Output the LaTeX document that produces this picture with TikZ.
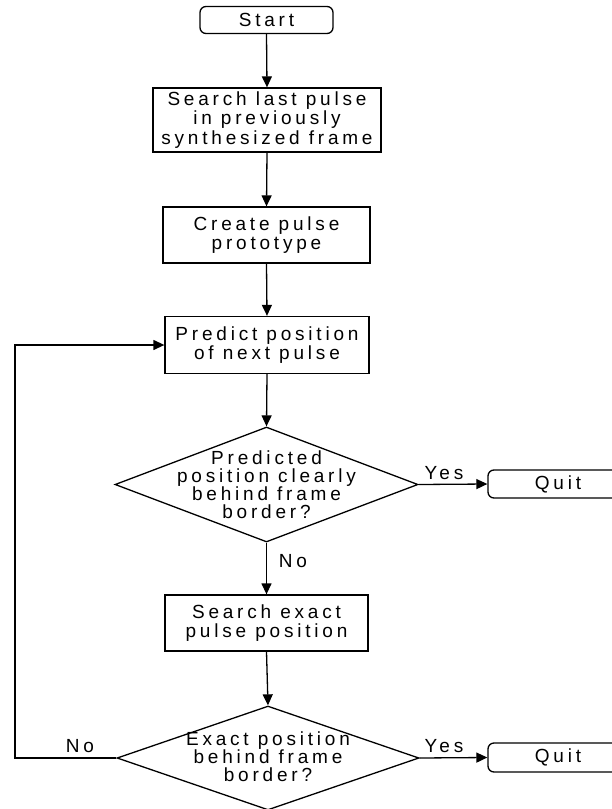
\documentclass[tikz,border=0pt]{standalone}
\usepackage{fontspec}
\setmainfont{Liberation Sans}[LetterSpace=20]
\usetikzlibrary{shapes.geometric,arrows.meta}
\newcommand\flowfont{\fontsize{19}{19.5}\selectfont}
\newcommand\decfont{\fontsize{19}{18}\selectfont}
\tikzset{
  base/.style={draw, line width=1.3pt, inner sep=0pt, align=center, font=\flowfont},
  procbox/.style={base, rectangle},
  termbox/.style={base, rectangle, rounded corners=6pt},
  decbox/.style={base, diamond},
  dectext/.style={inner sep=0pt, align=center, font=\decfont},
  lbl/.style={inner sep=0pt, font=\flowfont},
  arr/.style={-{Triangle[length=11pt,width=10pt]}, line width=1.3pt},
}
\begin{document}
\begin{tikzpicture}[x=1pt,y=-1pt]
\useasboundingbox (0,0) rectangle (612,809);
\node[termbox, minimum width=133pt, minimum height=27pt] (start) at (266.5,20) {Start};
\node[procbox, minimum width=228pt, minimum height=64pt] (s1) at (267,120) {Search last pulse\\in previously\\synthesized frame};
\node[procbox, minimum width=207pt, minimum height=56pt] (s2) at (266.5,235) {Create pulse\\prototype};
\node[procbox, minimum width=204pt, minimum height=57pt] (s3) at (267,345) {Predict position\\of next pulse};
\node[decbox, minimum width=303pt, minimum height=115pt] (d1) at (266.5,484.5) {};
\node[dectext] (d1t) at (266.5,484.5) {Predicted\\position clearly\\behind frame\\border?};
\node[termbox, minimum width=140pt, minimum height=28pt] (q1) at (558,484) {Quit};
\node[procbox, minimum width=203pt, minimum height=56pt] (s4) at (266.5,623) {Search exact\\pulse position};
\node[decbox, minimum width=302pt, minimum height=104pt] (d2) at (268,758) {};
\node[dectext] (d2t) at (268,757) {Exact position\\behind frame\\border?};
\node[termbox, minimum width=140pt, minimum height=29pt] (q2) at (558,757.5) {Quit};
\coordinate (lb) at (15,758);
\coordinate (lt) at (15,345);
\draw[arr] (start.south) -- (s1.north);
\draw[arr] (s1.south) -- (s2.north);
\draw[arr] (s2.south) -- (s3.north);
\draw[arr] (s3.south) -- (d1.north);
\draw[arr] (d1.south) -- (s4.north);
\draw[arr] (d1.east) -- (q1.west);
\draw[arr] (s4.south) -- (d2.north);
\draw[arr] (d2.east) -- (q2.west);
\draw[arr] (d2.west) -- (lb) -- (lt) -- (s3.west);
\node[lbl] (no1) at (293,561) {No};
\node[lbl] (yes1) at (444,473) {Yes};
\node[lbl] (yes2) at (444,746) {Yes};
\node[lbl] (no2) at (80,746) {No};
\end{tikzpicture}
\end{document}
